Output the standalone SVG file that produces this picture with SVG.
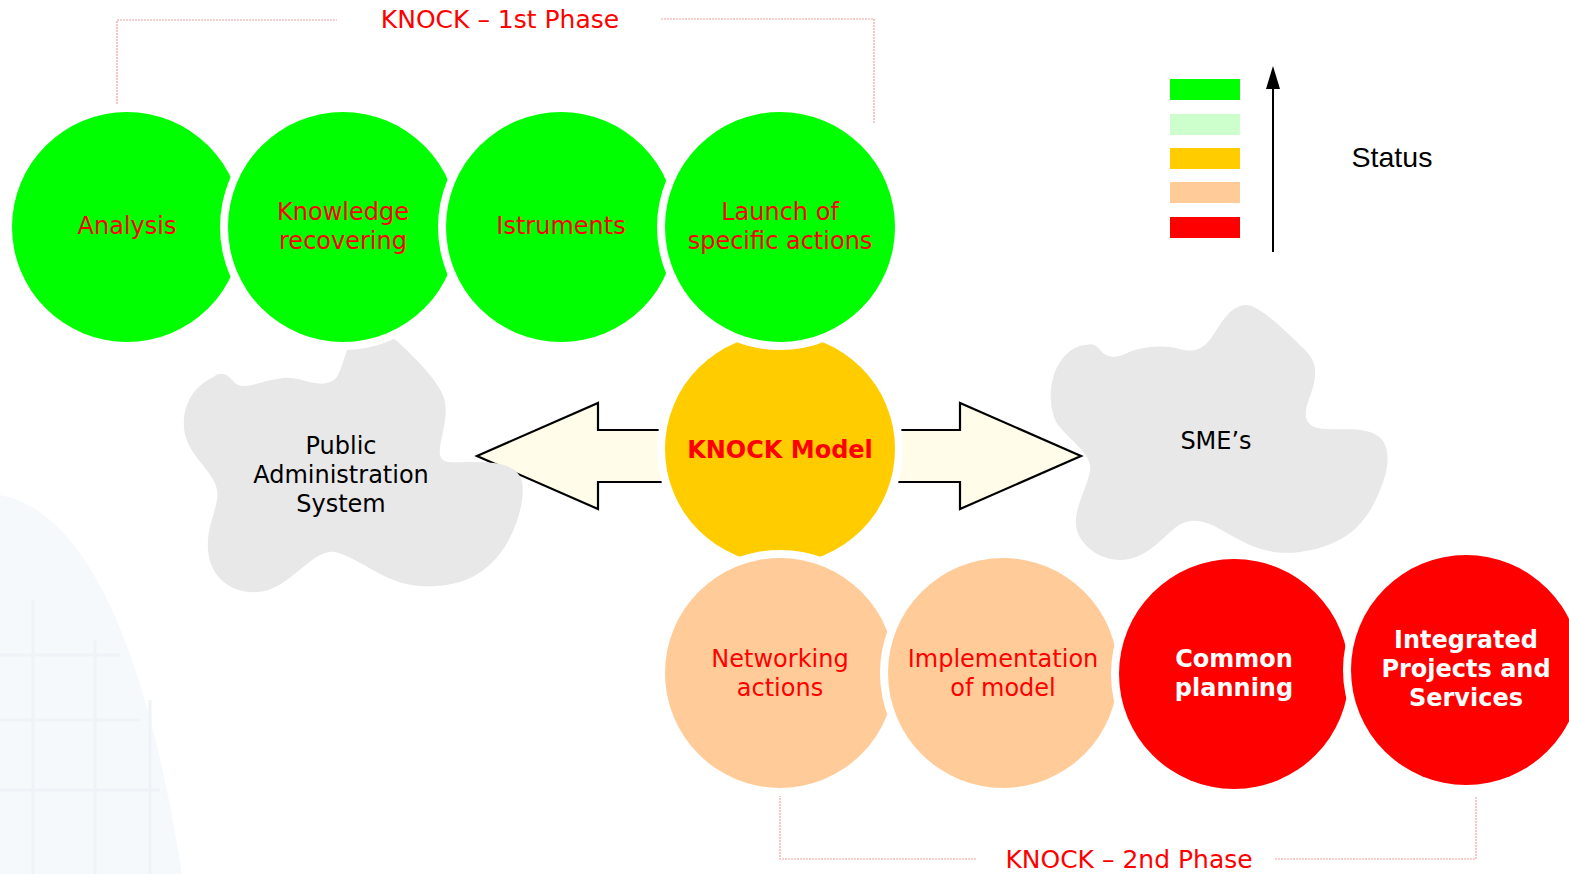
<svg xmlns="http://www.w3.org/2000/svg" width="1569" height="874" viewBox="0 0 1569 874">
<style>
.t{font-family:"DejaVu Sans","Verdana",sans-serif;font-size:24px;text-anchor:middle}
.red{fill:#ff0000}
.blk{fill:#000}
.wb{fill:#fff;font-weight:bold}
.rb{fill:#ff0000;font-weight:bold}
.ph{font-family:"DejaVu Sans","Verdana",sans-serif;font-size:25px;fill:#ff0000;text-anchor:middle}
.halo{fill:#fff}
.br{fill:none;stroke:#f2a0a0;stroke-width:1.2;stroke-dasharray:2 1}
.arr{fill:#fffde9;stroke:#000;stroke-width:2.2;stroke-linejoin:miter}
.cloud{fill:#e8e8e8}
.g{fill:#00ff00}.y{fill:#ffcc00}.p{fill:#ffcc99}.r{fill:#ff0000}
</style>
<rect width="1569" height="874" fill="#fff"/>
<g id="watermark">
<path d="M0,495 C70,508 140,605 182,874 L0,874 Z" fill="#f6f9fc"/>
<g fill="none" stroke="#eef3f8" stroke-width="3">
<path d="M33,600 V874 M95,640 V874 M150,700 V874 M0,655 H120 M0,720 H140 M0,790 H160"/>
</g>
</g>
<g id="connectors">
<path class="br" d="M117,107 V20 H337"/>
<path class="br" d="M661,19 H874 V124"/>
<path class="br" d="M780,795 V859 H977"/>
<path class="br" d="M1275,859 H1476 V796"/>
<polygon class="arr" points="477,456 598,403 598,430 672,430 672,482 598,482 598,509"/>
<polygon class="arr" points="1081,456 960,403 960,430 888,430 888,482 960,482 960,509"/>
</g>
<g id="phase1"><text class="ph" x="500" y="28">KNOCK – 1st Phase</text></g>
<g id="phase2"><text class="ph" x="1129" y="868">KNOCK – 2nd Phase</text></g>
<g id="pa">
<path class="cloud" d="M212,378 C220,370 228,374 234,382 C242,392 262,380 283,378 C302,376 318,390 334,380 C342,374 345,350 352,338 C362,325 385,330 398,342 C415,358 438,380 444,398 C450,418 438,442 440,455 C442,465 455,462 470,462 C490,462 518,462 522,482 C526,505 512,540 498,556 C480,578 455,588 420,586 C385,584 360,558 335,552 C312,548 290,590 258,592 C232,594 210,578 208,550 C206,525 220,505 217,490 C214,470 186,455 184,428 C182,405 195,385 212,378 Z"/>
<text class="t blk" x="341" y="454">Public</text>
<text class="t blk" x="341" y="483">Administration</text>
<text class="t blk" x="341" y="512">System</text>
</g>
<g id="sme">
<path class="cloud" d="M1086,345 C1093,343 1097,346 1100,350 C1106,357 1114,359 1125,354 C1140,347 1160,344 1180,349 C1198,354 1206,346 1214,334 C1224,318 1232,306 1245,305 C1258,304 1285,330 1305,350 C1322,366 1314,385 1308,402 C1302,420 1308,428 1325,429 C1345,430 1365,427 1378,436 C1392,446 1389,470 1380,490 C1368,520 1350,545 1300,552 C1268,556 1248,545 1225,532 C1205,520 1190,516 1175,528 C1160,540 1145,560 1120,560 C1100,560 1078,545 1076,525 C1074,505 1092,480 1090,465 C1088,452 1070,440 1058,425 C1048,410 1048,380 1060,362 C1068,350 1078,345 1086,345 Z"/>
<text class="t blk" x="1216" y="449">SME’s</text>
</g>
<g id="legend">
<rect x="1170" y="79" width="70" height="21" fill="#00ff00"/>
<rect x="1170" y="114" width="70" height="21" fill="#ccffcc"/>
<rect x="1170" y="148" width="70" height="21" fill="#ffcc00"/>
<rect x="1170" y="182" width="70" height="21" fill="#ffcc99"/>
<rect x="1170" y="217" width="70" height="21" fill="#ff0000"/>
<line x1="1273" y1="252" x2="1273" y2="86" stroke="#000" stroke-width="2"/>
<polygon points="1273,66 1266,89 1280,89" fill="#000"/>
<text x="1392" y="167" font-family="Liberation Sans, Arial, sans-serif" font-size="28.5" text-anchor="middle" fill="#000">Status</text>
</g>
<g id="knock">
<circle class="halo" cx="780" cy="449" r="123"/><circle class="y" cx="780" cy="449" r="115"/>
<text class="t rb" x="780" y="458">KNOCK Model</text>
</g>
<g id="analysis">
<circle class="halo" cx="127" cy="227" r="123"/><circle class="g" cx="127" cy="227" r="115"/>
<text class="t red" x="127" y="234">Analysis</text>
</g>
<g id="knowledge">
<circle class="halo" cx="343" cy="227" r="123"/><circle class="g" cx="343" cy="227" r="115"/>
<text class="t red" x="343" y="220">Knowledge</text>
<text class="t red" x="343" y="249">recovering</text>
</g>
<g id="istruments">
<circle class="halo" cx="561" cy="227" r="123"/><circle class="g" cx="561" cy="227" r="115"/>
<text class="t red" x="561" y="234">Istruments</text>
</g>
<g id="launch">
<circle class="halo" cx="780" cy="227" r="123"/><circle class="g" cx="780" cy="227" r="115"/>
<text class="t red" x="780" y="220">Launch of</text>
<text class="t red" x="780" y="249">specific actions</text>
</g>
<g id="networking">
<circle class="halo" cx="780" cy="673" r="123"/><circle class="p" cx="780" cy="673" r="115"/>
<text class="t red" x="780" y="667">Networking</text>
<text class="t red" x="780" y="696">actions</text>
</g>
<g id="implementation">
<circle class="halo" cx="1003" cy="673" r="123"/><circle class="p" cx="1003" cy="673" r="115"/>
<text class="t red" x="1003" y="667">Implementation</text>
<text class="t red" x="1003" y="696">of model</text>
</g>
<g id="common">
<circle class="halo" cx="1234" cy="674" r="123"/><circle class="r" cx="1234" cy="674" r="115"/>
<text class="t wb" x="1234" y="667">Common</text>
<text class="t wb" x="1234" y="696">planning</text>
</g>
<g id="integrated">
<circle class="halo" cx="1466" cy="670" r="123"/><circle class="r" cx="1466" cy="670" r="115"/>
<text class="t wb" x="1466" y="648">Integrated</text>
<text class="t wb" x="1466" y="677">Projects and</text>
<text class="t wb" x="1466" y="706">Services</text>
</g>
</svg>
